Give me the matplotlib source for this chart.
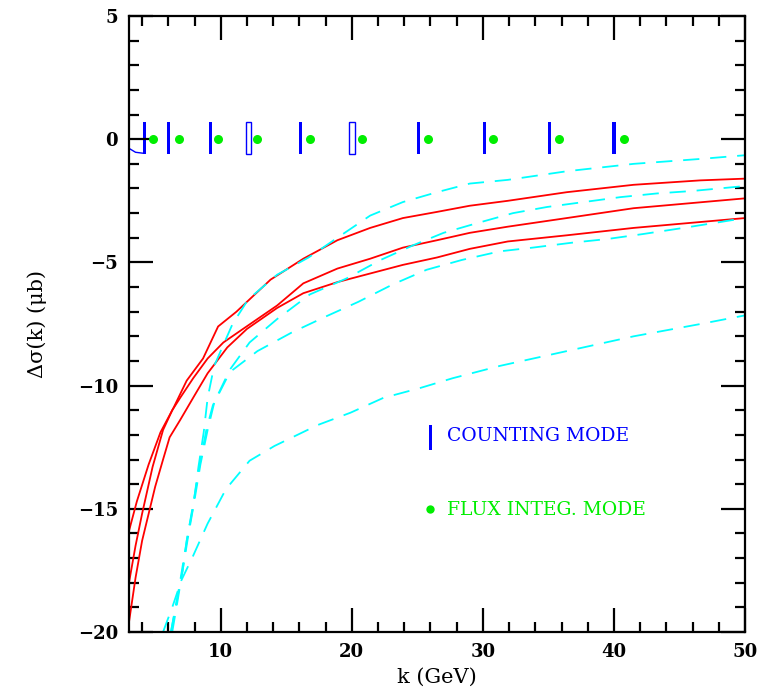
import numpy as np
import matplotlib.pyplot as plt
from matplotlib.ticker import MultipleLocator

plt.rcParams.update({
    "font.family": ["DejaVu Serif"],
    "font.weight": "bold",
    "axes.linewidth": 1.6,
})

# ---- data ----
# solid red curves
red_a_x = [3.0, 3.6, 4.5, 5.4, 6.4, 7.4, 8.65, 9.8, 11.2, 13.8, 16.3, 18.9, 21.4, 23.9, 26.5, 29.0, 31.9, 36.4, 41.5, 46.6, 50.0]
red_a_y = [-15.9, -14.7, -13.2, -11.9, -10.9, -9.8, -8.9, -7.6, -7.0, -5.7, -4.85, -4.1, -3.6, -3.2, -2.95, -2.7, -2.5, -2.15, -1.85, -1.67, -1.6]
red_b_x = [3.0, 3.5, 4.0, 4.8, 5.6, 6.3, 6.9, 7.9, 9.0, 10.2, 11.7, 14.3, 16.3, 18.9, 21.4, 23.9, 26.5, 29.0, 31.9, 36.4, 41.5, 50.0]
red_b_y = [-18.0, -16.5, -15.2, -13.3, -11.8, -11.0, -10.5, -9.7, -8.9, -8.25, -7.7, -6.75, -5.85, -5.25, -4.85, -4.4, -4.1, -3.8, -3.55, -3.2, -2.8, -2.4]
red_c_x = [3.0, 3.5, 4.0, 5.0, 5.6, 6.1, 6.9, 8.0, 9.0, 10.5, 12.0, 14.3, 16.3, 18.9, 21.4, 23.9, 26.5, 29.0, 31.9, 36.4, 41.5, 50.0]
red_c_y = [-19.6, -17.8, -16.3, -14.1, -13.0, -12.1, -11.4, -10.4, -9.5, -8.45, -7.7, -6.85, -6.25, -5.8, -5.45, -5.1, -4.8, -4.45, -4.15, -3.9, -3.6, -3.2]

# dashed cyan curves
cyan1_x = [6.2, 6.65, 7.1, 7.4, 7.9, 8.3, 8.7, 9.0, 9.5, 10.9, 12.1, 14.3, 16.7, 18.9, 21.4, 23.9, 26.5, 29.0, 31.9, 36.4, 41.5, 46.6, 50.0]
cyan1_y = [-20.0, -18.7, -17.5, -16.3, -14.9, -13.3, -11.9, -10.5, -9.2, -7.5, -6.5, -5.5, -4.8, -4.0, -3.1, -2.55, -2.15, -1.8, -1.65, -1.3, -1.0, -0.8, -0.65]
cyan2_x = [6.2, 6.7, 7.1, 7.5, 7.9, 8.4, 8.9, 9.4, 10.7, 12.2, 14.3, 16.8, 19.6, 22.2, 24.7, 27.0, 29.6, 32.3, 34.9, 37.7, 40.5, 43.3, 46.0, 50.0]
cyan2_y = [-20.0, -18.6, -17.3, -16.0, -14.8, -13.2, -11.8, -10.8, -9.35, -8.25, -7.3, -6.3, -5.65, -4.9, -4.3, -3.8, -3.4, -3.0, -2.75, -2.55, -2.35, -2.2, -2.1, -1.9]
cyan3_x = [6.3, 6.75, 7.15, 7.55, 7.95, 8.45, 9.0, 9.5, 10.7, 12.8, 15.4, 18.0, 20.5, 23.1, 25.7, 28.4, 31.3, 33.8, 36.8, 39.5, 42.2, 45.3, 50.0]
cyan3_y = [-20.0, -18.6, -17.3, -16.0, -14.8, -13.2, -11.8, -10.7, -9.45, -8.6, -7.85, -7.2, -6.6, -5.9, -5.3, -4.9, -4.55, -4.4, -4.2, -4.05, -3.85, -3.6, -3.2]
cyan4_x = [5.6, 6.3, 7.0, 7.9, 9.0, 10.4, 12.2, 14.1, 17.4, 19.9, 22.4, 25.2, 27.7, 31.3, 36.4, 41.5, 46.6, 50.0]
cyan4_y = [-20.0, -19.0, -17.9, -16.9, -15.6, -14.2, -13.05, -12.45, -11.6, -11.1, -10.5, -10.1, -9.7, -9.2, -8.6, -8.0, -7.5, -7.15]

# counting mode (blue bars) and flux integration mode (green dots)
count_k = [4.2, 6.0, 9.2, 12.1, 16.1, 20.0, 25.1, 30.1, 35.1, 40.0]
count_lo = [-0.6] * 10
count_hi = [0.7] * 10
count_open = [False, False, False, True, False, True, False, False, False, False]
count_tail_x = [3.0, 3.5, 4.1]
count_tail_y = [-0.37, -0.53, -0.57]
flux_k = [4.8, 6.8, 9.8, 12.8, 16.8, 20.8, 25.8, 30.8, 35.8, 40.8]
flux_y = [0.0] * 10

BLUE = "#0000ff"
GREEN = "#00ee00"
CYAN = "#00ffff"
RED = "#ff0000"

fig = plt.figure(figsize=(7.61, 6.97), dpi=100)
ax = fig.add_axes([0.1695, 0.0933, 0.8095, 0.8837])

for xs, ys in [(red_a_x, red_a_y), (red_b_x, red_b_y), (red_c_x, red_c_y)]:
    ax.plot(xs, ys, color=RED, lw=1.3)

for xs, ys in [(cyan1_x, cyan1_y), (cyan2_x, cyan2_y), (cyan3_x, cyan3_y), (cyan4_x, cyan4_y)]:
    ax.plot(xs, ys, color=CYAN, lw=1.3, dashes=(9, 6))

for k, lo, hi, op in zip(count_k, count_lo, count_hi, count_open):
    if op:
        ax.bar(k, hi - lo, bottom=lo, width=0.42, facecolor="white",
               edgecolor=BLUE, linewidth=1.0)
    else:
        ax.bar(k, hi - lo, bottom=lo, width=0.25, color=BLUE, linewidth=0)
ax.plot(count_tail_x, count_tail_y, color=BLUE, lw=1.0)
ax.plot(flux_k, flux_y, "o", color=GREEN, ms=6.5, mec="none")

# in-plot legend
ax.bar(26.0, 1.0, bottom=-12.6, width=0.25, color=BLUE, linewidth=0)
ax.text(27.3, -12.05, "COUNTING MODE", color=BLUE, fontsize=13.5,
        fontweight="normal", va="center")
ax.plot([26.0], [-15.0], "o", color=GREEN, ms=6, mec="none")
ax.text(27.3, -15.05, "FLUX INTEG. MODE", color=GREEN, fontsize=13.5,
        fontweight="normal", va="center")

ax.set_xlim(3, 50)
ax.set_ylim(-20, 5)
ax.xaxis.set_major_locator(MultipleLocator(10))
ax.xaxis.set_minor_locator(MultipleLocator(2))
ax.yaxis.set_major_locator(MultipleLocator(5))
ax.yaxis.set_minor_locator(MultipleLocator(1))
ax.tick_params(which="both", direction="in", top=True, right=True, width=1.6)
ax.tick_params(which="major", length=17, labelsize=13, pad=8)
ax.tick_params(which="minor", length=7)

ax.set_xlabel("k (GeV)", fontsize=15, labelpad=5)
ax.set_ylabel("Δσ(k) (μb)", fontsize=15, labelpad=22)

fig.savefig("out.png", dpi=100)
